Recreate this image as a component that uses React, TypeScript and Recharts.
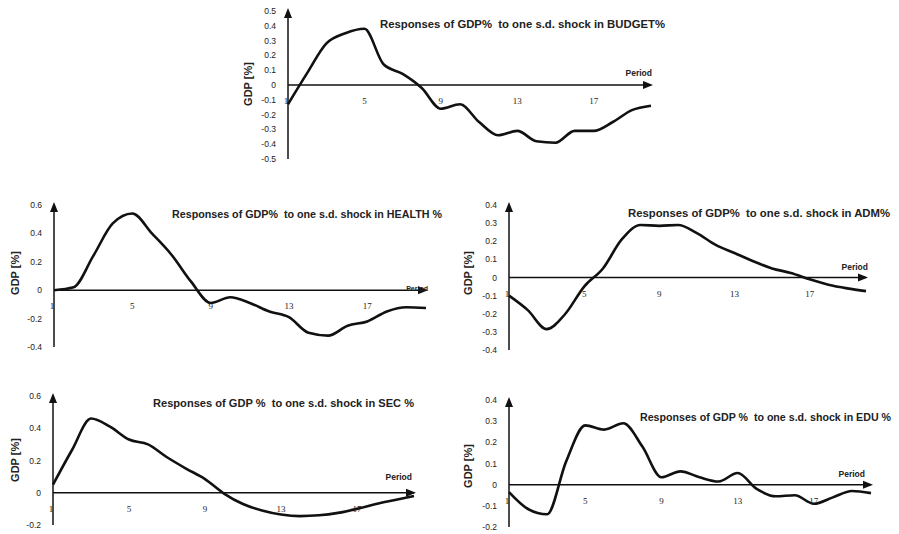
import { LineChart, Line, XAxis, YAxis, ReferenceLine, ReferenceDot } from 'recharts';

const periods = [1, 2, 3, 4, 5, 6, 7, 8, 9, 10, 11, 12, 13, 14, 15, 16, 17, 18, 19, 20];
const xTicks = [1, 5, 9, 13, 17];

const budget = [-0.13, 0.08, 0.28, 0.35, 0.38, 0.14, 0.075, -0.02, -0.16, -0.13, -0.25, -0.34, -0.31, -0.38, -0.39, -0.31, -0.31, -0.25, -0.17, -0.14];
const health = [0, 0.02, 0.24, 0.47, 0.54, 0.4, 0.25, 0.06, -0.09, -0.05, -0.09, -0.15, -0.19, -0.3, -0.32, -0.25, -0.22, -0.15, -0.12, -0.125];
const adm = [-0.1, -0.18, -0.285, -0.2, -0.05, 0.05, 0.21, 0.29, 0.285, 0.29, 0.245, 0.18, 0.135, 0.09, 0.05, 0.025, -0.01, -0.04, -0.06, -0.075];
const sec = [0.05, 0.265, 0.46, 0.41, 0.33, 0.3, 0.22, 0.15, 0.085, -0.005, -0.07, -0.11, -0.135, -0.145, -0.14, -0.125, -0.1, -0.07, -0.045, -0.02];
const edu = [-0.035, -0.115, -0.14, 0.11, 0.28, 0.26, 0.29, 0.18, 0.035, 0.063, 0.035, 0.015, 0.055, -0.02, -0.055, -0.05, -0.09, -0.06, -0.03, -0.04];

const budgetTicks = [-0.5, -0.4, -0.3, -0.2, -0.1, 0, 0.1, 0.2, 0.3, 0.4, 0.5];
const healthTicks = [-0.4, -0.2, 0, 0.2, 0.4, 0.6];
const admTicks = [-0.4, -0.3, -0.2, -0.1, 0, 0.1, 0.2, 0.3, 0.4];
const secTicks = [-0.2, 0, 0.2, 0.4, 0.6];
const eduTicks = [-0.2, -0.1, 0, 0.1, 0.2, 0.3, 0.4];

const titles = [
  'Responses of GDP%  to one s.d. shock in BUDGET%',
  'Responses of GDP%  to one s.d. shock in HEALTH %',
  'Responses of GDP%  to one s.d. shock in ADM%',
  'Responses of GDP %  to one s.d. shock in SEC %',
  'Responses of GDP %  to one s.d. shock in EDU %',
];

const INK = '#111';
const ML = 40;
const MT = 8;
const MR = 8;
const MB = 8;

type Box = { left: number; top: number; width: number; height: number };

function IrfChart({ box, values, yTicks }: { box: Box; values: number[]; yTicks: number[] }) {
  const data = periods.map((p, i) => ({ period: p, value: values[i] }));
  const yMin = yTicks[0];
  const yMax = yTicks[yTicks.length - 1];
  const xEnd = periods[periods.length - 1];
  return (
    <div style={{ position: 'absolute', left: box.left - ML, top: box.top - MT }}>
      <LineChart
        width={box.width + ML + MR}
        height={box.height + MT + MB}
        data={data}
        margin={{ top: MT, right: MR, bottom: MB, left: 0 }}
      >
        <XAxis dataKey="period" type="number" domain={[1, xEnd]} hide />
        <YAxis
          type="number"
          domain={[yMin, yMax]}
          ticks={yTicks}
          interval={0}
          width={ML}
          axisLine={{ stroke: INK, strokeWidth: 1.5 }}
          tickLine={false}
          tickMargin={6}
          tick={{ fontSize: 8.5, fill: '#222', fontFamily: 'Liberation Sans' }}
        />
        <ReferenceLine y={0} stroke={INK} strokeWidth={1.5} />
        {xTicks.map((t) => (
          <ReferenceDot
            key={t}
            x={t}
            y={0}
            r={0}
            ifOverflow="visible"
            shape={(p: any) => (
              <text
                x={p.cx - (t === 1 ? 2 : 0)}
                y={p.cy + 19}
                textAnchor="middle"
                fontSize={9}
                fill="#222"
                fontFamily="Liberation Serif"
              >
                {t}
              </text>
            )}
          />
        ))}
        <ReferenceDot
          x={xEnd}
          y={0}
          r={0}
          ifOverflow="visible"
          shape={(p: any) => (
            <polygon points={`${p.cx + 2},${p.cy} ${p.cx - 8},${p.cy - 4} ${p.cx - 8},${p.cy + 4}`} fill={INK} />
          )}
        />
        <ReferenceDot
          x={1}
          y={yMax}
          r={0}
          ifOverflow="visible"
          shape={(p: any) => (
            <polygon points={`${p.cx},${p.cy - 3} ${p.cx - 4},${p.cy + 7} ${p.cx + 4},${p.cy + 7}`} fill={INK} />
          )}
        />
        <Line dataKey="value" type="monotone" stroke={INK} strokeWidth={2.6} dot={false} isAnimationActive={false} />
      </LineChart>
    </div>
  );
}

function Title({ x, y, w, text }: { x: number; y: number; w: number; text: string }) {
  return (
    <text
      x={x}
      y={y}
      fontSize={10.8}
      fontWeight="bold"
      fill="#222"
      fontFamily="Liberation Sans"
      textLength={w}
      lengthAdjust="spacingAndGlyphs"
      style={{ whiteSpace: 'pre' }}
    >
      {text}
    </text>
  );
}

function YLabel({ x, y }: { x: number; y: number }) {
  return (
    <text x={x} y={y} transform={`rotate(-90 ${x} ${y})`} textAnchor="middle" fontSize={11} fontWeight="bold" fill="#222" fontFamily="Liberation Sans">
      GDP [%]
    </text>
  );
}

function PeriodLabel({ x, y, size = 8.5 }: { x: number; y: number; size?: number }) {
  return (
    <text x={x} y={y} textAnchor="end" fontSize={size} fontWeight="bold" fill="#222" fontFamily="Liberation Sans">
      Period
    </text>
  );
}

export default function App() {
  return (
    <div style={{ position: 'absolute', left: 0, top: 0, width: 899, height: 534, background: '#fff', overflow: 'hidden' }}>
      <IrfChart box={{ left: 288, top: 11, width: 363, height: 148 }} values={budget} yTicks={budgetTicks} />
      <IrfChart box={{ left: 54, top: 205, width: 372, height: 142 }} values={health} yTicks={healthTicks} />
      <IrfChart box={{ left: 509, top: 205, width: 357, height: 145 }} values={adm} yTicks={admTicks} />
      <IrfChart box={{ left: 53, top: 396, width: 361, height: 129 }} values={sec} yTicks={secTicks} />
      <IrfChart box={{ left: 509, top: 400, width: 362, height: 127 }} values={edu} yTicks={eduTicks} />
      <svg width={899} height={534} style={{ position: 'absolute', left: 0, top: 0, pointerEvents: 'none' }}>
        <Title x={380} y={28} w={285} text={titles[0]} />
        <Title x={172} y={217.5} w={270} text={titles[1]} />
        <Title x={628} y={217} w={262} text={titles[2]} />
        <Title x={153} y={407} w={261} text={titles[3]} />
        <Title x={640} y={420.5} w={251} text={titles[4]} />
        <YLabel x={252} y={84} />
        <YLabel x={19} y={273} />
        <YLabel x={472} y={273} />
        <YLabel x={19} y={460} />
        <YLabel x={472} y={466} />
        <PeriodLabel x={652} y={76} />
        <PeriodLabel x={428} y={291} size={7} />
        <PeriodLabel x={868} y={270} />
        <PeriodLabel x={412} y={480} />
        <PeriodLabel x={865} y={477} />
      </svg>
    </div>
  );
}
